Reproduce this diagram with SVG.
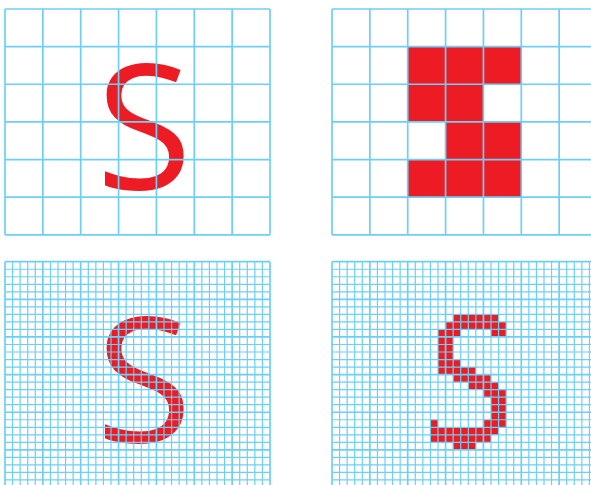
<svg xmlns="http://www.w3.org/2000/svg" width="591" height="485" viewBox="0 0 591 485">
<style>
.bg{fill:#ffffff}
.red{fill:#ed1c24}
.letter{fill:#ed1c24;font-family:"Open Sans","Noto Sans","DejaVu Sans",sans-serif;font-size:175px;text-anchor:middle}
.big{fill:none;stroke:#6dcff6;stroke-width:1.7}
.minor{fill:none;stroke:#6dcff6;stroke-width:1.2}
.major{fill:none;stroke:#6dcff6;stroke-width:1.7}
</style>
<rect class="bg" x="0" y="0" width="591" height="485"/>

<g id="panel-letter">
<text class="letter" x="144" y="188.5">S</text>
<path class="big" d="M5 9V234.8M42.86 9V234.8M80.71 9V234.8M118.57 9V234.8M156.43 9V234.8M194.29 9V234.8M232.14 9V234.8M270 9V234.8M5 9H270M5 46.63H270M5 84.27H270M5 121.9H270M5 159.53H270M5 197.17H270M5 234.8H270"/>
</g>

<g id="panel-coarse-pixels">
<path class="red" d="M407.71 46.63H521.29V84.27H407.71Z M407.71 84.27H483.43V121.9H407.71Z M445.57 121.9H521.29V159.53H445.57Z M407.71 159.53H521.29V197.17H407.71Z"/>
<path class="big" d="M332 9V234.8M369.86 9V234.8M407.71 9V234.8M445.57 9V234.8M483.43 9V234.8M521.29 9V234.8M559.14 9V234.8M597 9V234.8M332 9H597M332 46.63H597M332 84.27H597M332 121.9H597M332 159.53H597M332 197.17H597M332 234.8H597"/>
</g>

<g id="panel-letter-fine-grid">
<text class="letter" x="144" y="441.5">S</text>
<path class="minor" d="M12.57 261.7V487.5M20.14 261.7V487.5M27.71 261.7V487.5M35.29 261.7V487.5M50.43 261.7V487.5M58 261.7V487.5M65.57 261.7V487.5M73.14 261.7V487.5M88.29 261.7V487.5M95.86 261.7V487.5M103.43 261.7V487.5M111 261.7V487.5M126.14 261.7V487.5M133.71 261.7V487.5M141.29 261.7V487.5M148.86 261.7V487.5M164 261.7V487.5M171.57 261.7V487.5M179.14 261.7V487.5M186.71 261.7V487.5M201.86 261.7V487.5M209.43 261.7V487.5M217 261.7V487.5M224.57 261.7V487.5M239.71 261.7V487.5M247.29 261.7V487.5M254.86 261.7V487.5M262.43 261.7V487.5
M5 269.23H270M5 276.75H270M5 284.28H270M5 291.81H270M5 306.86H270M5 314.39H270M5 321.91H270M5 329.44H270M5 344.49H270M5 352.02H270M5 359.55H270M5 367.07H270M5 382.13H270M5 389.65H270M5 397.18H270M5 404.71H270M5 419.76H270M5 427.29H270M5 434.81H270M5 442.34H270M5 457.39H270M5 464.92H270M5 472.45H270M5 479.97H270"/>
<path class="major" d="M5 261.7V487.5M42.86 261.7V487.5M80.71 261.7V487.5M118.57 261.7V487.5M156.43 261.7V487.5M194.29 261.7V487.5M232.14 261.7V487.5M270 261.7V487.5M5 261.7H270M5 299.33H270M5 336.97H270M5 374.6H270M5 412.23H270M5 449.87H270M5 487.5H270"/>
</g>

<g id="panel-fine-pixels">
<path class="red" d="M453.14 314.39h45.43v7.53h-45.43z M445.57 321.91h60.57v7.53h-60.57z M438 329.44h22.71v7.53h-22.71z M491 329.44h15.14v7.53h-15.14z M438 336.97h15.14v7.53h-15.14z M438 344.49h15.14v7.53h-15.14z M438 352.02h15.14v7.53h-15.14z M438 359.55h22.71v7.53h-22.71z M438 367.07h37.86v7.53h-37.86z M453.14 374.6h37.86v7.53h-37.86z M468.29 382.13h30.28v7.53h-30.28z M483.43 389.65h22.71v7.53h-22.71z M491 397.18h15.14v7.53h-15.14z M491 404.71h15.14v7.53h-15.14z M491 412.23h15.14v7.53h-15.14z M430.43 419.76h7.57v7.53h-7.57z M483.43 419.76h22.71v7.53h-22.71z M430.43 427.29h68.14v7.53h-68.14z M430.43 434.81h60.57v7.53h-60.57z M453.14 442.34h22.72v7.53h-22.72z"/>
<path class="minor" d="M339.57 261.7V487.5M347.14 261.7V487.5M354.71 261.7V487.5M362.29 261.7V487.5M377.43 261.7V487.5M385 261.7V487.5M392.57 261.7V487.5M400.14 261.7V487.5M415.29 261.7V487.5M422.86 261.7V487.5M430.43 261.7V487.5M438 261.7V487.5M453.14 261.7V487.5M460.71 261.7V487.5M468.29 261.7V487.5M475.86 261.7V487.5M491 261.7V487.5M498.57 261.7V487.5M506.14 261.7V487.5M513.71 261.7V487.5M528.86 261.7V487.5M536.43 261.7V487.5M544 261.7V487.5M551.57 261.7V487.5M566.71 261.7V487.5M574.29 261.7V487.5M581.86 261.7V487.5M589.43 261.7V487.5
M332 269.23H597M332 276.75H597M332 284.28H597M332 291.81H597M332 306.86H597M332 314.39H597M332 321.91H597M332 329.44H597M332 344.49H597M332 352.02H597M332 359.55H597M332 367.07H597M332 382.13H597M332 389.65H597M332 397.18H597M332 404.71H597M332 419.76H597M332 427.29H597M332 434.81H597M332 442.34H597M332 457.39H597M332 464.92H597M332 472.45H597M332 479.97H597"/>
<path class="major" d="M332 261.7V487.5M369.86 261.7V487.5M407.71 261.7V487.5M445.57 261.7V487.5M483.43 261.7V487.5M521.29 261.7V487.5M559.14 261.7V487.5M332 261.7H597M332 299.33H597M332 336.97H597M332 374.6H597M332 412.23H597M332 449.87H597M332 487.5H597"/>
</g>
</svg>
